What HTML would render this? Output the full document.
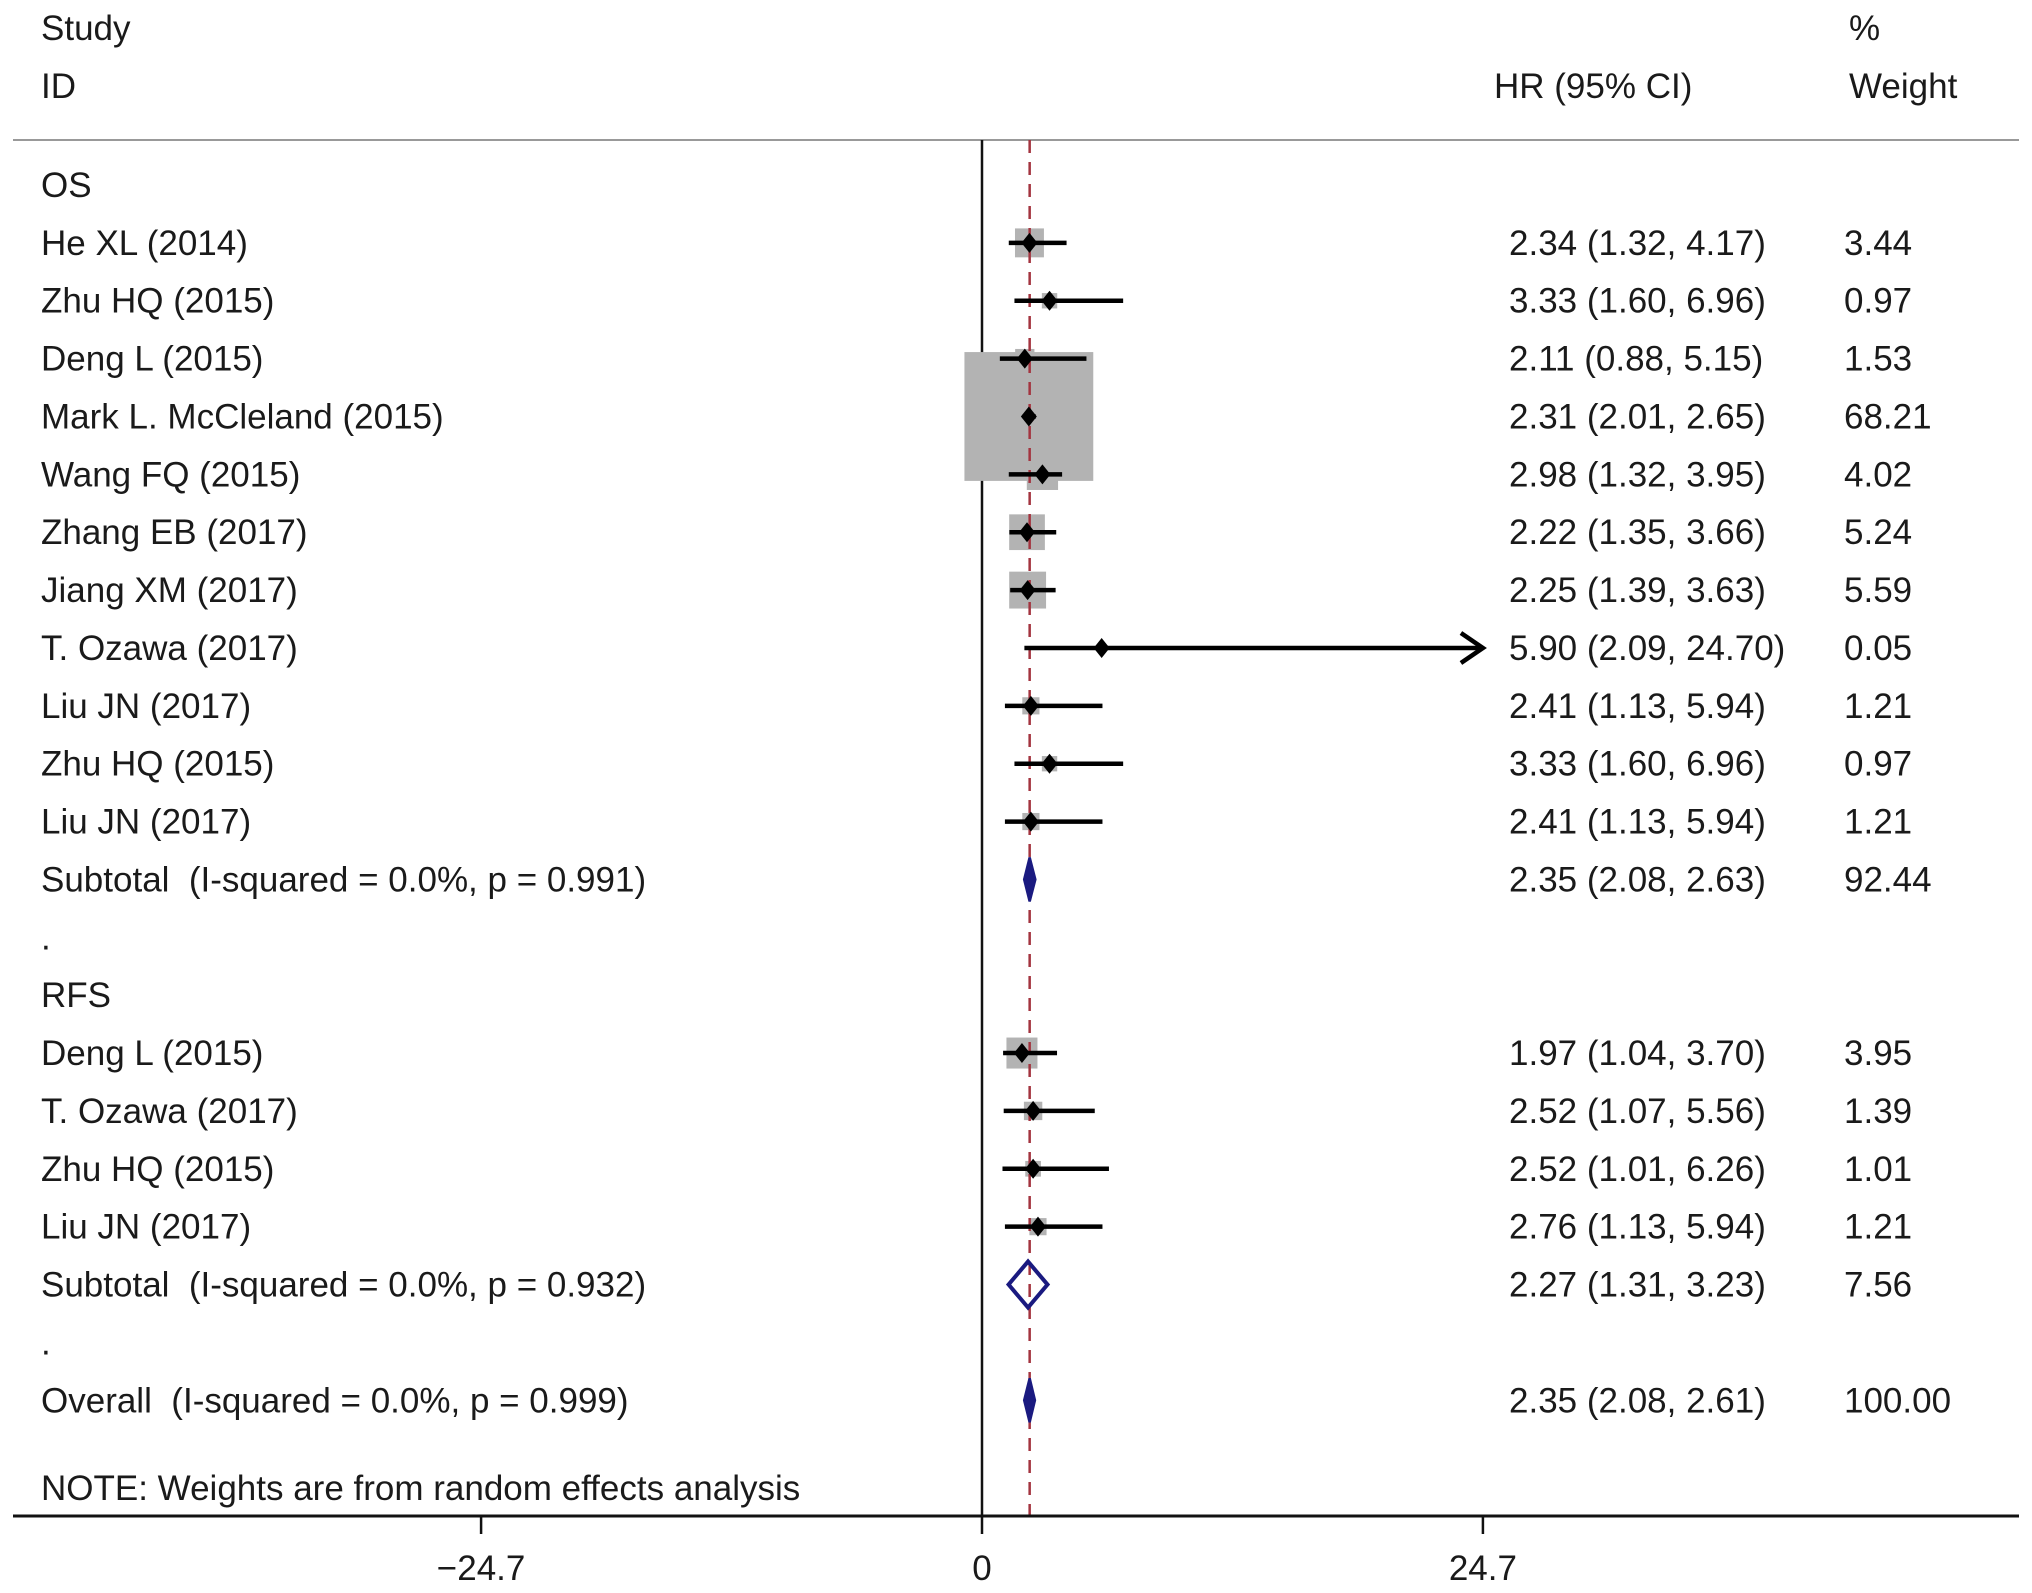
<!DOCTYPE html>
<html><head><meta charset="utf-8"><style>
html,body{margin:0;padding:0;background:#fff;}
svg{display:block;}
text{font-family:"Liberation Sans",Arial,sans-serif;font-size:35px;fill:#1a1a1a;white-space:pre;}
</style></head><body>
<svg id="chart" width="2032" height="1593" viewBox="0 0 2032 1593" xmlns="http://www.w3.org/2000/svg" xml:space="preserve">
<text x="41" y="40">Study</text>
<text x="41" y="98">ID</text>
<text x="1494" y="98">HR (95% CI)</text>
<text x="1849" y="40">%</text>
<text x="1849" y="98">Weight</text>
<line x1="13" y1="140" x2="2019" y2="140" stroke="#999" stroke-width="2"/>
<g id="plot"></g>
</svg>
<script>
const labels = ["OS","He XL (2014)","Zhu HQ (2015)","Deng L (2015)","Mark L. McCleland (2015)","Wang FQ (2015)","Zhang EB (2017)","Jiang XM (2017)","T. Ozawa (2017)","Liu JN (2017)","Zhu HQ (2015)","Liu JN (2017)","Subtotal  (I-squared = 0.0%, p = 0.991)",".","RFS","Deng L (2015)","T. Ozawa (2017)","Zhu HQ (2015)","Liu JN (2017)","Subtotal  (I-squared = 0.0%, p = 0.932)",".","Overall  (I-squared = 0.0%, p = 0.999)"];
const kinds = ["h","s","s","s","s","s","s","s","s","s","s","s","d","h","h","s","s","s","s","d","h","d"];
const hr = [null,2.34,3.33,2.11,2.31,2.98,2.22,2.25,5.90,2.41,3.33,2.41,2.35,null,null,1.97,2.52,2.52,2.76,2.27,null,2.35];
const lo = [null,1.32,1.60,0.88,2.01,1.32,1.35,1.39,2.09,1.13,1.60,1.13,2.08,null,null,1.04,1.07,1.01,1.13,1.31,null,2.08];
const hi = [null,4.17,6.96,5.15,2.65,3.95,3.66,3.63,24.70,5.94,6.96,5.94,2.63,null,null,3.70,5.56,6.26,5.94,3.23,null,2.61];
const weights = [null,"3.44","0.97","1.53","68.21","4.02","5.24","5.59","0.05","1.21","0.97","1.21","92.44",null,null,"3.95","1.39","1.01","1.21","7.56",null,"100.00"];
const xTicks = [-24.7, 0, 24.7];
const xTickLabels = ["\u221224.7","0","24.7"];
const overallHR = 2.35;

const NS="http://www.w3.org/2000/svg";
const g=document.getElementById('plot');
const X0=982, XS=20.28;
const x=v=>X0+v*XS;
const Y0=185, YS=57.87;
const y=i=>Y0+i*YS;
const clipMax=24.7;
function el(t,a){const e=document.createElementNS(NS,t);for(const k in a)e.setAttribute(k,a[k]);g.appendChild(e);return e;}
function fmt(v){return v.toFixed(2);}

let e=el('line',{x1:x(0),y1:140,x2:x(0),y2:1516,stroke:'#111','stroke-width':2.5});



kinds.forEach((k,i)=>{
  if(k!=='s')return;
  const w=parseFloat(weights[i]);
  const side=15.6*Math.sqrt(w);
  const b=el('rect',{x:x(hr[i])-side/2,y:y(i)-side/2,width:side,height:side,fill:'#b3b3b3'});
  
  
});

e=el('line',{x1:x(overallHR),y1:140,x2:x(overallHR),y2:1516,stroke:'#a3343f','stroke-width':2.5,'stroke-dasharray':'13,9'});



kinds.forEach((k,i)=>{
  const yy=y(i);
  const t=el('text',{x:41,y:yy+12});
  t.textContent=labels[i];
  
  
  if(k==='h')return;
  const ht=el('text',{x:1509,y:yy+12});
  ht.textContent=fmt(hr[i])+" ("+fmt(lo[i])+", "+fmt(hi[i])+")";
  
  
  const wt=el('text',{x:1844,y:yy+12});
  wt.textContent=weights[i];
  
  
  if(k==='s'){
    const x2=Math.min(hi[i],clipMax);
    const l=el('line',{x1:x(lo[i]),y1:yy,x2:x(x2),y2:yy,stroke:'#000','stroke-width':4.5});
    
    
    if(hi[i]>=clipMax){
      const a=el('polyline',{points:`${x(x2)-22},${yy-15} ${x(x2)},${yy} ${x(x2)-22},${yy+15}`,fill:'none',stroke:'#000','stroke-width':4.5});
      
      
    }
    const cx=x(hr[i]);
    const d=el('polygon',{points:`${cx},${yy-10} ${cx+8},${yy} ${cx},${yy+10} ${cx-8},${yy}`,fill:'#000'});
    
    
  } else {
    const wide=hi[i]-lo[i]>1;
    const h=wide?23:22;
    const d=el('polygon',{points:`${x(lo[i])},${yy} ${x(hr[i])},${yy-h} ${x(hi[i])},${yy} ${x(hr[i])},${yy+h}`,fill:(wide?'none':'#1a1a80'),stroke:'#1a1a80','stroke-width':(wide?4:2.5)});
    
    
  }
});

let n=el('text',{x:41,y:1500});
n.textContent="NOTE: Weights are from random effects analysis";



e=el('line',{x1:13,y1:1516,x2:2019,y2:1516,stroke:'#111','stroke-width':3});


xTicks.forEach((v,i)=>{
  const tk=el('line',{x1:x(v),y1:1516,x2:x(v),y2:1534,stroke:'#111','stroke-width':2.5});
  
  
  const tl=el('text',{x:x(v),y:1580,'text-anchor':'middle'});
  tl.textContent=xTickLabels[i];
  
  
});
</script>
</body></html>
